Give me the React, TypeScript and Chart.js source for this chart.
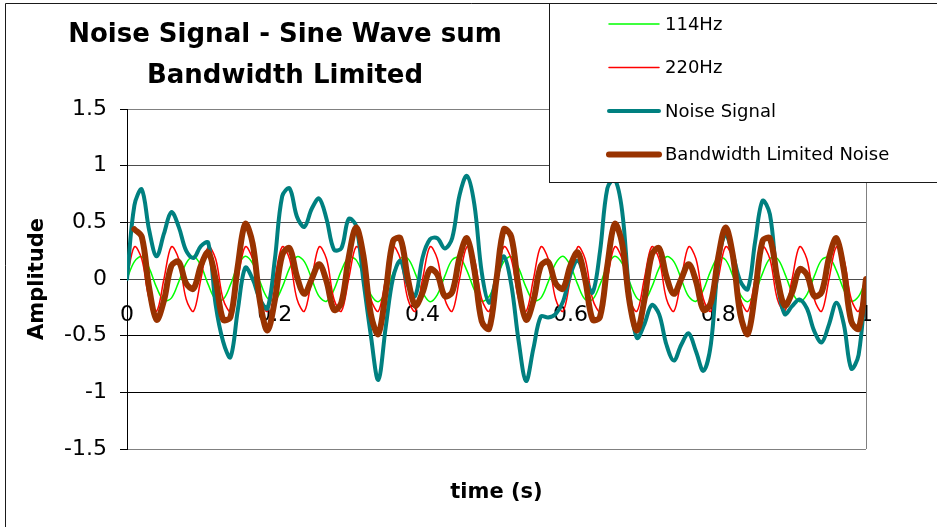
import React, { useEffect, useRef } from 'react';
import { Chart, registerables } from 'chart.js';

Chart.register(...registerables);

// ---- data (sampled every 0.01 s) ----
const TIME = [
  0, 0.01, 0.02, 0.03, 0.04, 0.05, 0.06, 0.07, 0.08, 0.09,
  0.1, 0.11, 0.12, 0.13, 0.14, 0.15, 0.16, 0.17, 0.18, 0.19,
  0.2, 0.21, 0.22, 0.23, 0.24, 0.25, 0.26, 0.27, 0.28, 0.29,
  0.3, 0.31, 0.32, 0.33, 0.34, 0.35, 0.36, 0.37, 0.38, 0.39,
  0.4, 0.41, 0.42, 0.43, 0.44, 0.45, 0.46, 0.47, 0.48, 0.49,
  0.5, 0.51, 0.52, 0.53, 0.54, 0.55, 0.56, 0.57, 0.58, 0.59,
  0.6, 0.61, 0.62, 0.63, 0.64, 0.65, 0.66, 0.67, 0.68, 0.69,
  0.7, 0.71, 0.72, 0.73, 0.74, 0.75, 0.76, 0.77, 0.78, 0.79,
  0.8, 0.81, 0.82, 0.83, 0.84, 0.85, 0.86, 0.87, 0.88, 0.89,
  0.9, 0.91, 0.92, 0.93, 0.94, 0.95, 0.96, 0.97, 0.98, 0.99,
  1,
];

const SINE_114 = [
  0, 0.154, 0.196, 0.096, -0.074, -0.19, -0.169, -0.025, 0.137, 0.2,
  0.118, -0.05, -0.181, -0.181, -0.05, 0.118, 0.2, 0.137, -0.025, -0.169,
  -0.19, -0.074, 0.096, 0.196, 0.154, 0, -0.154, -0.196, -0.096, 0.074,
  0.19, 0.169, 0.025, -0.137, -0.2, -0.118, 0.05, 0.181, 0.181, 0.05,
  -0.118, -0.2, -0.137, 0.025, 0.169, 0.19, 0.074, -0.096, -0.196, -0.154,
  0, 0.154, 0.196, 0.096, -0.074, -0.19, -0.169, -0.025, 0.137, 0.2,
  0.118, -0.05, -0.181, -0.181, -0.05, 0.118, 0.2, 0.137, -0.025, -0.169,
  -0.19, -0.074, 0.096, 0.196, 0.154, 0, -0.154, -0.196, -0.096, 0.074,
  0.19, 0.169, 0.025, -0.137, -0.2, -0.118, 0.05, 0.181, 0.181, 0.05,
  -0.118, -0.2, -0.137, 0.025, 0.169, 0.19, 0.074, -0.096, -0.196, -0.154,
  0,
];

const SINE_220 = [
  0, 0.285, 0.176, -0.176, -0.285, 0, 0.285, 0.176, -0.176, -0.285,
  0, 0.285, 0.176, -0.176, -0.285, 0, 0.285, 0.176, -0.176, -0.285,
  0, 0.285, 0.176, -0.176, -0.285, 0, 0.285, 0.176, -0.176, -0.285,
  0, 0.285, 0.176, -0.176, -0.285, 0, 0.285, 0.176, -0.176, -0.285,
  0, 0.285, 0.176, -0.176, -0.285, 0, 0.285, 0.176, -0.176, -0.285,
  0, 0.285, 0.176, -0.176, -0.285, 0, 0.285, 0.176, -0.176, -0.285,
  0, 0.285, 0.176, -0.176, -0.285, 0, 0.285, 0.176, -0.176, -0.285,
  0, 0.285, 0.176, -0.176, -0.285, 0, 0.285, 0.176, -0.176, -0.285,
  0, 0.285, 0.176, -0.176, -0.285, 0, 0.285, 0.176, -0.176, -0.285,
  0, 0.285, 0.176, -0.176, -0.285, 0, 0.285, 0.176, -0.176, -0.285,
  0,
];

const NOISE_SIGNAL = [
  0, 0.65, 0.79, 0.43, 0.2, 0.4, 0.59, 0.46, 0.25, 0.185,
  0.29, 0.32, -0.23, -0.55, -0.69, -0.27, 0.1, 0.0, -0.18, -0.26,
  0.17, 0.73, 0.8, 0.55, 0.46, 0.62, 0.71, 0.53, 0.26, 0.27,
  0.53, 0.47, -0.02, -0.5, -0.89, -0.43, 0.01, 0.16, -0.05, -0.15,
  0.19, 0.35, 0.36, 0.27, 0.36, 0.74, 0.91, 0.66, 0.06, -0.21,
  0.01, 0.2, -0.05, -0.55, -0.9, -0.61, -0.33, -0.34, -0.31, -0.2,
  0.04, 0.16, 0.01, -0.12, 0.24, 0.8, 0.88, 0.6, -0.14, -0.52,
  -0.4, -0.23, -0.31, -0.58, -0.72, -0.58, -0.48, -0.64, -0.81, -0.58,
  0.13, 0.39, 0.21, -0.02, -0.09, 0.33, 0.69, 0.57, -0.02, -0.31,
  -0.24, -0.18, -0.26, -0.46, -0.56, -0.4, -0.21, -0.4, -0.79, -0.67,
  0,
];

const BW_LIMITED_NOISE = [
  null, 0.439, 0.372, -0.08, -0.359, -0.19, 0.116, 0.151, -0.039, -0.085,
  0.118, 0.235, -0.005, -0.357, -0.335, 0.118, 0.485, 0.313, -0.201, -0.454,
  -0.19, 0.211, 0.272, 0.02, -0.131, 0, 0.131, -0.02, -0.272, -0.211,
  0.19, 0.454, 0.201, -0.313, -0.485, -0.118, 0.335, 0.357, 0.005, -0.235,
  -0.118, 0.085, 0.039, -0.151, -0.116, 0.19, 0.359, 0.08, -0.372, -0.439,
  0, 0.439, 0.372, -0.08, -0.359, -0.19, 0.116, 0.151, -0.039, -0.085,
  0.118, 0.235, -0.005, -0.357, -0.335, 0.118, 0.485, 0.313, -0.201, -0.454,
  -0.19, 0.211, 0.272, 0.02, -0.131, 0, 0.131, -0.02, -0.272, -0.211,
  0.19, 0.454, 0.201, -0.313, -0.485, -0.118, 0.335, 0.357, 0.005, -0.235,
  -0.118, 0.085, 0.039, -0.151, -0.116, 0.19, 0.359, 0.08, -0.372, -0.439,
  0,
];

const SERIES_NAMES = ['114Hz', '220Hz', 'Noise Signal', 'Bandwidth Limited Noise'];
const TITLE_LINES = ['Noise Signal - Sine Wave sum', 'Bandwidth Limited'];
const X_TITLE = 'time (s)';
const Y_TITLE = 'Amplitude';

const FONT = "'DejaVu Sans', 'Liberation Sans', sans-serif";

const fmtTick = (v: any) => String(Number(Number(v).toFixed(2)));

export default function App() {
  const canvasRef = useRef<HTMLCanvasElement | null>(null);

  useEffect(() => {
    document.body.style.margin = '0';
    const canvas = canvasRef.current;
    if (!canvas) return;

    const pts = (ys: (number | null)[]) => TIME.map((t, i) => ({ x: t, y: ys[i] }));

    const framePlugin = {
      id: 'frame',
      beforeDraw(chart: any) {
        const { ctx, width, height, chartArea } = chart;
        ctx.save();
        ctx.fillStyle = '#ffffff';
        ctx.fillRect(0, 0, width, height);
        ctx.strokeStyle = '#1a1a1a';
        ctx.lineWidth = 1;
        ctx.beginPath();
        ctx.moveTo(5.5, height + 2);
        ctx.lineTo(5.5, 3.5);
        ctx.lineTo(width + 2, 3.5);
        ctx.stroke();
        // plot area right border
        ctx.strokeStyle = '#808080';
        ctx.beginPath();
        const rx = Math.round(chartArea.right) + 0.5;
        ctx.moveTo(rx, chartArea.top);
        ctx.lineTo(rx, chartArea.bottom);
        ctx.stroke();
        ctx.restore();
      },
    };

    const titlePlugin = {
      id: 'titleText',
      afterDraw(chart: any) {
        const { ctx } = chart;
        ctx.save();
        ctx.fillStyle = '#000';
        ctx.font = `bold 26px ${FONT}`;
        ctx.textAlign = 'center';
        ctx.textBaseline = 'alphabetic';
        ctx.fillText(TITLE_LINES[0], 285, 42);
        ctx.fillText(TITLE_LINES[1], 285, 83);
        ctx.restore();
      },
    };

    const legendPlugin = {
      id: 'boxLegend',
      afterDraw(chart: any) {
        const { ctx, width } = chart;
        ctx.save();
        const left = 549.5;
        const top = 3.5;
        const bottom = 182.5;
        ctx.fillStyle = '#ffffff';
        ctx.fillRect(left, top, width - left + 2, bottom - top);
        ctx.strokeStyle = '#1a1a1a';
        ctx.lineWidth = 1;
        ctx.strokeRect(left, top, width - left + 5, bottom - top);
        ctx.font = `18px ${FONT}`;
        ctx.textAlign = 'left';
        ctx.textBaseline = 'middle';
        chart.data.datasets.forEach((ds: any, i: number) => {
          const y = 24 + i * 43.5;
          ctx.strokeStyle = ds.borderColor;
          ctx.lineWidth = ds.borderWidth;
          ctx.lineCap = 'round';
          ctx.beginPath();
          ctx.moveTo(609, y);
          ctx.lineTo(659, y);
          ctx.stroke();
          ctx.fillStyle = '#000';
          ctx.fillText(ds.label, 665, y + 1);
        });
        ctx.restore();
      },
    };

    const zeroPad = (s: any) => {
      s.paddingLeft = 0;
      s.paddingRight = 0;
      s.paddingTop = 0;
      s.paddingBottom = 0;
    };

    const chart = new Chart(canvas, {
      type: 'line',
      data: {
        datasets: [
          { label: SERIES_NAMES[0], data: pts(SINE_114), borderColor: '#00FF00', borderWidth: 1.5, order: 4 },
          { label: SERIES_NAMES[1], data: pts(SINE_220), borderColor: '#FF0000', borderWidth: 1.5, order: 3 },
          { label: SERIES_NAMES[2], data: pts(NOISE_SIGNAL), borderColor: '#008080', borderWidth: 4, order: 2 },
          { label: SERIES_NAMES[3], data: pts(BW_LIMITED_NOISE), borderColor: '#993300', borderWidth: 6, order: 1 },
        ] as any,
      },
      options: {
        animation: false,
        responsive: false,
        devicePixelRatio: 1,
        font: { family: FONT },
        elements: {
          point: { radius: 0, hoverRadius: 0 },
          line: { tension: 0.35, fill: false, borderCapStyle: 'round', borderJoinStyle: 'round' },
        },
        layout: { padding: { left: 0, top: 109, right: 71, bottom: 0 } },
        plugins: {
          legend: { display: false },
          title: { display: false },
          tooltip: { enabled: false },
        },
        scales: {
          x: {
            type: 'linear',
            position: 'bottom',
            min: 0,
            max: 1,
            ticks: { display: false },
            grid: { display: false, drawTicks: false },
            border: { display: false },
            title: {
              display: true,
              text: X_TITLE,
              color: '#000',
              font: { family: FONT, size: 21, weight: 'bold' },
              padding: { top: 0, bottom: 22 },
            },
            afterFit(s: any) {
              s.height = 78;
              zeroPad(s);
            },
          },
          x2: {
            type: 'linear',
            position: { y: 0 },
            min: 0,
            max: 1,
            ticks: {
              stepSize: 0.2,
              autoSkip: false,
              maxRotation: 0,
              padding: 23,
              color: '#000',
              font: { family: FONT, size: 22 },
              callback: fmtTick,
            },
            grid: { display: false, drawTicks: false, tickLength: 0 },
            border: { display: false },
            afterFit(s: any) {
              zeroPad(s);
            },
          },
          y: {
            type: 'linear',
            position: 'left',
            min: -1.5,
            max: 1.5,
            ticks: {
              stepSize: 0.5,
              padding: 13,
              color: '#000',
              font: { family: FONT, size: 22 },
              callback: fmtTick,
            },
            grid: {
              color: (c: any) => {
                const v = c.tick ? c.tick.value : 0;
                if (Math.abs(v) === 1.5) return '#808080';
                if (v >= 0) return '#4d4d4d';
                return '#000000';
              },
              lineWidth: 1,
              tickLength: 7,
              tickColor: '#000',
            },
            border: { display: true, color: '#000', width: 1 },
            title: {
              display: true,
              text: Y_TITLE,
              color: '#000',
              font: { family: FONT, size: 21, weight: 'bold' },
              padding: { top: 25, bottom: 0 },
            },
            afterFit(s: any) {
              s.width = 127;
              zeroPad(s);
            },
          },
        },
      } as any,
      plugins: [framePlugin, titlePlugin, legendPlugin],
    });

    return () => chart.destroy();
  }, []);

  return (
    <div style={{ position: 'fixed', left: 0, top: 0, width: 937, height: 527, background: '#fff' }}>
      <canvas ref={canvasRef} width={937} height={527} style={{ display: 'block', width: 937, height: 527 }} />
    </div>
  );
}
